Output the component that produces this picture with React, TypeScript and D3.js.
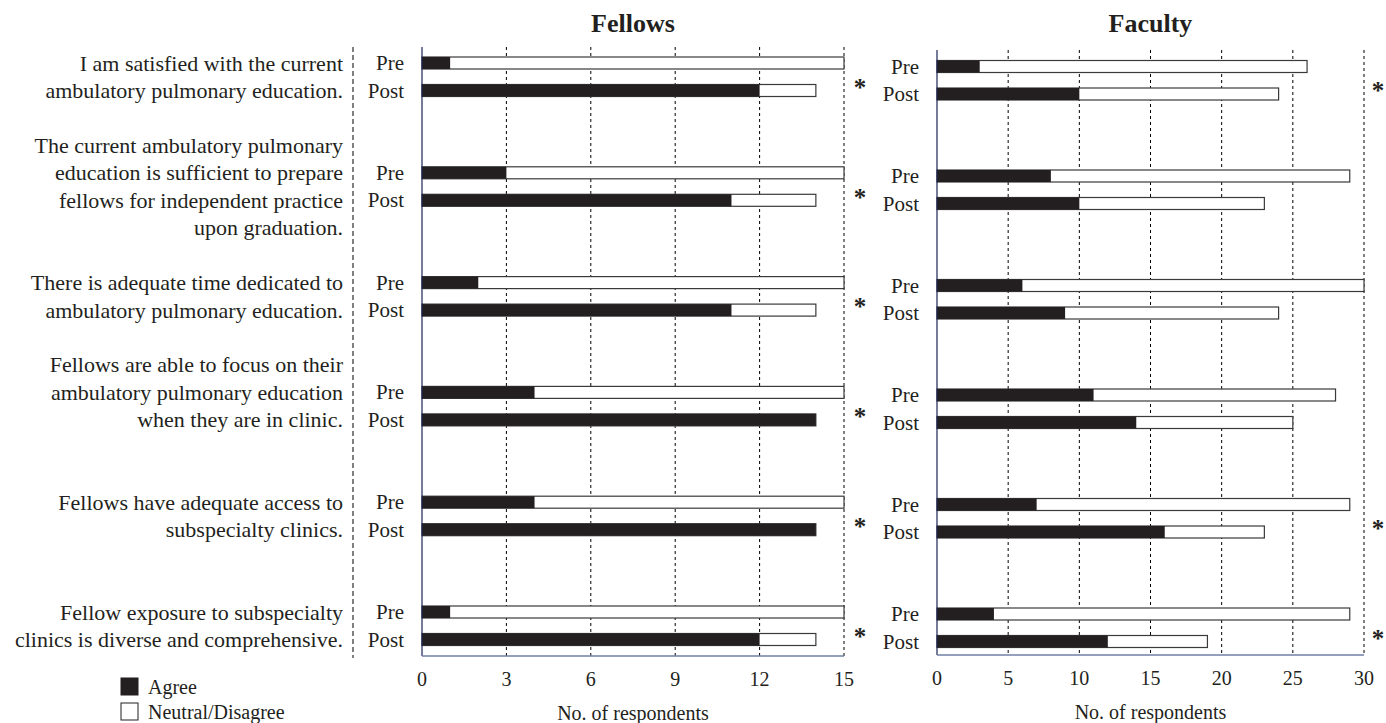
import React from 'react';
import * as d3 from 'd3';

const statements = [
  ['I am satisfied with the current', 'ambulatory pulmonary education.'],
  ['The current ambulatory pulmonary', 'education is sufficient to prepare', 'fellows for independent practice', 'upon graduation.'],
  ['There is adequate time dedicated to', 'ambulatory pulmonary education.'],
  ['Fellows are able to focus on their', 'ambulatory pulmonary education', 'when they are in clinic.'],
  ['Fellows have adequate access to', 'subspecialty clinics.'],
  ['Fellow exposure to subspecialty', 'clinics is diverse and comprehensive.'],
];

const phases = ['Pre', 'Post'];

const fellowsPreAgree = [1, 3, 2, 4, 4, 1];
const fellowsPreTotal = [15, 15, 15, 15, 15, 15];
const fellowsPostAgree = [12, 11, 11, 14, 14, 12];
const fellowsPostTotal = [14, 14, 14, 14, 14, 14];
const fellowsSignificant = [true, true, true, true, true, true];
const fellowsTicks = [0, 3, 6, 9, 12, 15];

const facultyPreAgree = [3, 8, 6, 11, 7, 4];
const facultyPreTotal = [26, 29, 30, 28, 29, 29];
const facultyPostAgree = [10, 10, 9, 14, 16, 12];
const facultyPostTotal = [24, 23, 24, 25, 23, 19];
const facultySignificant = [true, false, false, false, true, true];
const facultyTicks = [0, 5, 10, 15, 20, 25, 30];

const legendItems = ['Agree', 'Neutral/Disagree'];

const W = 1386;
const H = 723;
const FONT = "'Liberation Serif', 'Times New Roman', serif";
const ROW = 27.5;
const BAR_H = 12;
const DARK = '#231f20';

type PanelProps = {
  title: string;
  left: number;
  right: number;
  top: number;
  bottom: number;
  firstRow: number;
  lastRow: number;
  labelX: number;
  starX: number;
  ticks: number[];
  preAgree: number[];
  preTotal: number[];
  postAgree: number[];
  postTotal: number[];
  significant: boolean[];
};

const Panel = (p: PanelProps) => {
  const x = d3.scaleLinear().domain([0, d3.max(p.ticks) as number]).range([p.left, p.right]);
  const y = d3.scalePoint<number>().domain(d3.range(statements.length)).range([p.firstRow, p.lastRow]);
  const rows = statements.map((_, i) => [
    { agree: p.preAgree[i], total: p.preTotal[i] },
    { agree: p.postAgree[i], total: p.postTotal[i] },
  ]);
  return (
    <g>
      <text x={(p.left + p.right) / 2} y={32} textAnchor="middle" fontWeight="bold" fontSize={26}>
        {p.title}
      </text>
      {p.ticks.slice(1).map(t => (
        <line key={t} x1={x(t)} x2={x(t)} y1={p.top} y2={p.bottom} stroke="#000" strokeWidth={1} strokeDasharray="3,3" />
      ))}
      {rows.map((pair, i) =>
        pair.map((d, j) => {
          const cy = (y(i) as number) + j * ROW;
          return (
            <g key={`${i}-${j}`}>
              <text x={p.labelX} y={cy} textAnchor="end" dominantBaseline="central" fontSize={21}>
                {phases[j]}
              </text>
              <rect x={x(0)} y={cy - BAR_H / 2} width={x(d.total) - x(0)} height={BAR_H} fill="#fff" stroke="#3a3a3a" strokeWidth={1.2} />
              <rect x={x(0)} y={cy - BAR_H / 2} width={x(d.agree) - x(0)} height={BAR_H} fill={DARK} />
            </g>
          );
        })
      )}
      {p.significant.map((s, i) =>
        s ? (
          <text key={i} x={p.starX} y={(y(i) as number) + ROW / 2 + 19} textAnchor="middle" fontSize={25} fontWeight="bold">
            *
          </text>
        ) : null
      )}
      <line x1={p.left} x2={p.left} y1={p.top} y2={p.bottom} stroke="#1c2457" strokeWidth={1.2} />
      <line x1={p.left} x2={p.right} y1={p.bottom} y2={p.bottom} stroke="#6f7fa6" strokeWidth={1.5} />
      {p.ticks.map(t => (
        <text key={t} x={x(t)} y={p.bottom + 23} textAnchor="middle" dominantBaseline="central" fontSize={20}>
          {t}
        </text>
      ))}
      <text x={(p.left + p.right) / 2} y={p.bottom + 57} textAnchor="middle" dominantBaseline="central" fontSize={20}>
        No. of respondents
      </text>
    </g>
  );
};

export default function App() {
  const yText = d3.scalePoint<number>().domain(d3.range(statements.length)).range([63, 612]);
  return (
    <svg width={W} height={H} style={{ position: 'absolute', left: 0, top: 0, background: '#fff' }} fontFamily={FONT} fill={DARK}>
      {statements.map((lines, i) => {
        const start = (yText(i) as number) - Math.ceil((lines.length - 2) / 2) * ROW;
        return lines.map((ln, k) => (
          <text key={`${i}-${k}`} x={343} y={start + k * ROW} textAnchor="end" dominantBaseline="central" fontSize={22}>
            {ln}
          </text>
        ));
      })}
      <line x1={353} x2={353} y1={47} y2={658} stroke="#000" strokeWidth={1} strokeDasharray="5,3" />
      <Panel
        title="Fellows"
        left={422}
        right={844}
        top={47}
        bottom={656}
        firstRow={63}
        lastRow={612}
        labelX={404}
        starX={860}
        ticks={fellowsTicks}
        preAgree={fellowsPreAgree}
        preTotal={fellowsPreTotal}
        postAgree={fellowsPostAgree}
        postTotal={fellowsPostTotal}
        significant={fellowsSignificant}
      />
      <Panel
        title="Faculty"
        left={937}
        right={1364}
        top={50}
        bottom={655}
        firstRow={66.5}
        lastRow={614}
        labelX={919}
        starX={1378}
        ticks={facultyTicks}
        preAgree={facultyPreAgree}
        preTotal={facultyPreTotal}
        postAgree={facultyPostAgree}
        postTotal={facultyPostTotal}
        significant={facultySignificant}
      />
      {legendItems.map((name, i) => (
        <g key={name}>
          <rect x={121} y={678 + i * 25} width={17} height={17} fill={i === 0 ? DARK : '#fff'} stroke={DARK} strokeWidth={1} />
          <text x={148} y={687 + i * 25} dominantBaseline="central" fontSize={20}>
            {name}
          </text>
        </g>
      ))}
    </svg>
  );
}
